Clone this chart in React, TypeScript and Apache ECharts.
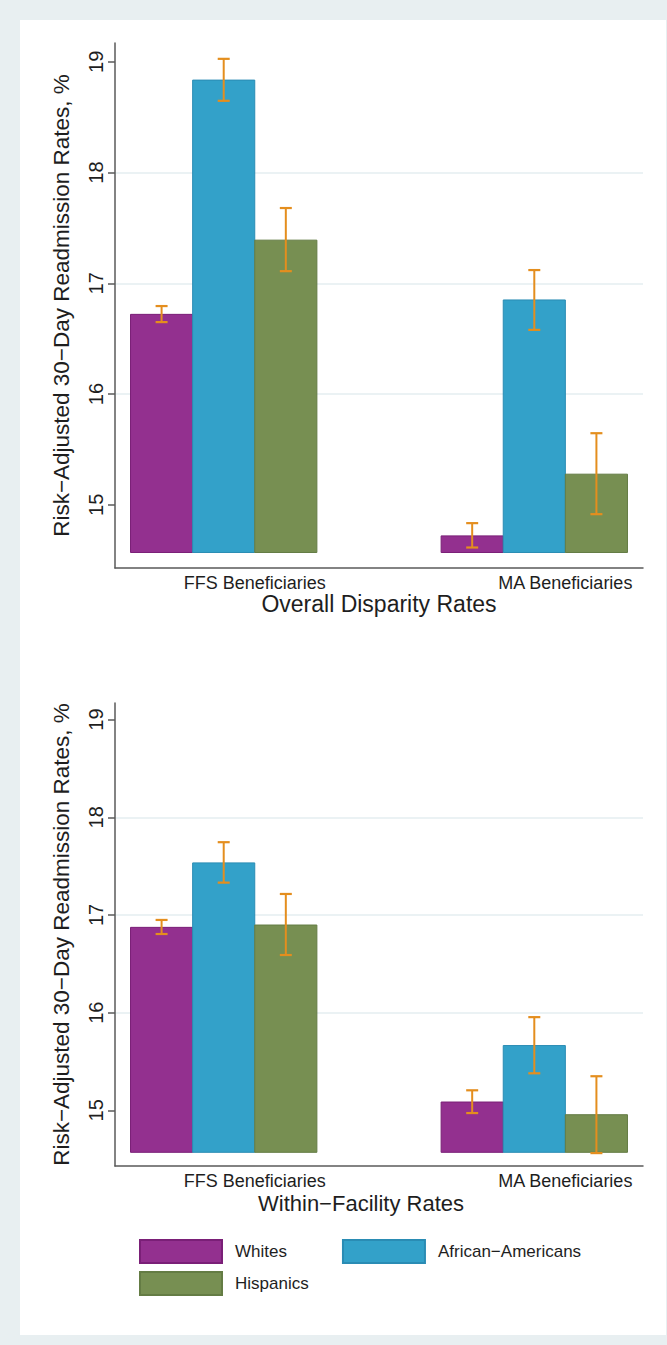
import React, { useEffect, useRef } from "react";
import * as echarts from "echarts";

const categories = ["FFS Beneficiaries", "MA Beneficiaries"];
const races = ["Whites", "African\u2212Americans", "Hispanics"];
const panelTitles = ["Overall Disparity Rates", "Within\u2212Facility Rates"];
const yTicks = [15, 16, 17, 18, 19];

// rows: race (Whites, African-Americans, Hispanics); cols: category (FFS, MA)
const overallMeans = [
  [16.72, 14.72],
  [18.835, 16.85],
  [17.39, 15.277],
];
const overallLower = [
  [16.65, 14.615],
  [18.648, 16.58],
  [17.11, 14.916],
];
const overallUpper = [
  [16.795, 14.835],
  [19.027, 17.12],
  [17.68, 15.647],
];

const withinMeans = [
  [16.873, 15.085],
  [17.533, 15.663],
  [16.897, 14.955],
];
const withinLower = [
  [16.805, 14.972],
  [17.331, 15.379],
  [16.59, 14.562],
];
const withinUpper = [
  [16.949, 15.205],
  [17.745, 15.954],
  [17.215, 15.349],
];

const Y_MIN = 14.43;
const Y_MAX = 19.17;
const BAR_BASE = 14.57;
const BAR_HALF = 0.1;
const BAR_STEP = 0.2;
const LABEL_SHIFT = 0.1;

const FONT = "'Liberation Sans', Arial, Helvetica, sans-serif";
const TEXT = "#1e1e1e";
const AXIS = "#5a5a5a";
const GRIDC = "#e4eef1";
const ERR = "#e48e1e";
const fills = ["#93308f", "#33a1c9", "#778f52"];
const borders = ["#7a1f77", "#2a8cb4", "#647c44"];

export default function App() {
  const ref = useRef<HTMLDivElement>(null);

  useEffect(() => {
    document.body.style.margin = "0";
    const chart = echarts.init(ref.current!, null, { renderer: "svg" });

    const panels = [
      { means: overallMeans, lower: overallLower, upper: overallUpper },
      { means: withinMeans, lower: withinLower, upper: withinUpper },
    ];

    const series: any[] = [];
    panels.forEach((p, pi) => {
      races.forEach((race, r) => {
        const off = (r - 1) * BAR_STEP;
        series.push({
          type: "custom",
          name: race,
          xAxisIndex: pi,
          yAxisIndex: pi,
          itemStyle: { color: fills[r], borderColor: borders[r], borderWidth: 1 },
          encode: { x: 0, y: 1 },
          data: categories.map((_, i) => [i, p.means[r][i], p.lower[r][i], p.upper[r][i]]),
          renderItem: (params: any, api: any) => {
            const g = api.value(0);
            const v = api.value(1);
            const lo = api.value(2);
            const hi = api.value(3);
            const tl = api.coord([g + off - BAR_HALF, v]);
            const br = api.coord([g + off + BAR_HALF, BAR_BASE]);
            const pl = api.coord([g + off, lo]);
            const ph = api.coord([g + off, hi]);
            const cap = 6;
            return {
              type: "group",
              children: [
                {
                  type: "rect",
                  shape: { x: tl[0], y: tl[1], width: br[0] - tl[0], height: br[1] - tl[1] },
                  style: { fill: fills[r], stroke: borders[r], lineWidth: 1 },
                },
                {
                  type: "line",
                  shape: { x1: pl[0], y1: pl[1], x2: ph[0], y2: ph[1] },
                  style: { stroke: ERR, lineWidth: 2 },
                },
                {
                  type: "line",
                  shape: { x1: pl[0] - cap, y1: pl[1], x2: pl[0] + cap, y2: pl[1] },
                  style: { stroke: ERR, lineWidth: 2.2 },
                },
                {
                  type: "line",
                  shape: { x1: ph[0] - cap, y1: ph[1], x2: ph[0] + cap, y2: ph[1] },
                  style: { stroke: ERR, lineWidth: 2.2 },
                },
              ],
            };
          },
        });
      });
    });

    const makeX = (pi: number) => ({
      type: "value",
      gridIndex: pi,
      min: -0.35,
      max: 1.35,
      name: panelTitles[pi],
      nameLocation: "middle",
      nameGap: pi === 0 ? 24 : 26,
      nameTextStyle: {
        fontSize: pi === 0 ? 23 : 22,
        color: TEXT,
        fontFamily: FONT,
        padding: pi === 0 ? [0, 0, 0, 0] : [0, 36, 0, 0],
      },
      axisLine: { show: true, onZero: false, lineStyle: { color: AXIS, width: 1.5 } },
      axisTick: { show: false },
      splitLine: { show: false },
      axisLabel: {
        customValues: categories.map((_, i) => i + LABEL_SHIFT),
        formatter: (val: number) => categories[Math.round(val - LABEL_SHIFT)] ?? "",
        fontSize: 18,
        color: TEXT,
        fontFamily: FONT,
        margin: 6,
      },
    });

    const makeY = (pi: number) => ({
      type: "value",
      gridIndex: pi,
      min: Y_MIN,
      max: Y_MAX,
      name: "Risk\u2212Adjusted 30\u2212Day Readmission Rates, %",
      nameLocation: "middle",
      nameRotate: 90,
      nameGap: 42,
      nameTextStyle: { fontSize: 22.5, color: TEXT, fontFamily: FONT },
      axisLine: { show: true, onZero: false, lineStyle: { color: AXIS, width: 1.5 } },
      axisTick: { show: true, customValues: yTicks, length: 7, lineStyle: { color: AXIS, width: 1.5 } },
      axisLabel: {
        customValues: yTicks,
        rotate: 90,
        fontSize: 20,
        color: TEXT,
        fontFamily: FONT,
        margin: 9,
      },
      splitLine: {
        show: true,
        showMinLine: false,
        showMaxLine: false,
        lineStyle: { color: GRIDC, width: 1.5 },
      },
    });

    const legendCommon = {
      orient: "horizontal",
      padding: 0,
      itemWidth: 82,
      itemHeight: 23,
      itemGap: 55,
      icon: "rect",
      selectedMode: false,
      textStyle: { fontSize: 17, color: TEXT, fontFamily: FONT, padding: [0, 0, 0, 8] },
    };

    chart.setOption({
      animation: false,
      backgroundColor: "transparent",
      textStyle: { fontFamily: FONT },
      grid: [
        { left: 115, top: 43, width: 528, height: 525 },
        { left: 115, top: 703, width: 528, height: 463 },
      ],
      xAxis: [makeX(0), makeX(1)],
      yAxis: [makeY(0), makeY(1)],
      legend: [
        { ...legendCommon, left: 139, top: 1239, data: [races[0], races[1]] },
        { ...legendCommon, left: 139, top: 1271, data: [races[2]] },
      ],
      series,
    });

    return () => chart.dispose();
  }, []);

  return (
    <div style={{ position: "absolute", left: 0, top: 0, width: 667, height: 1345, background: "#e8eff1" }}>
      <div style={{ position: "absolute", left: 20, top: 20, width: 646, height: 1315, background: "#ffffff" }} />
      <div ref={ref} style={{ position: "absolute", left: 0, top: 0, width: 667, height: 1345 }} />
    </div>
  );
}
